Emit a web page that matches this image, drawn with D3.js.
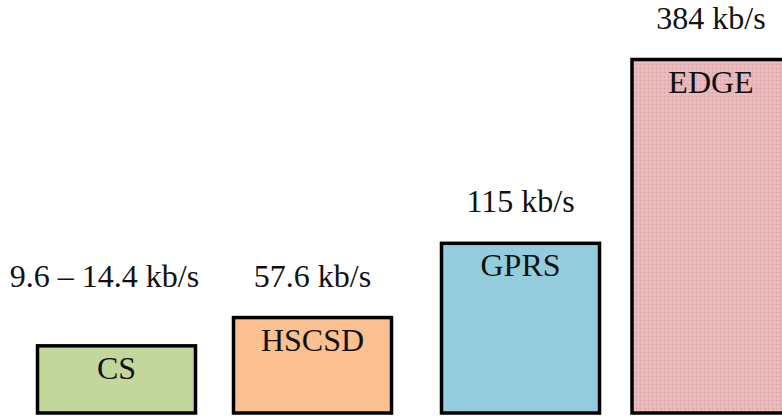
<!DOCTYPE html>
<html>
<head>
<meta charset="utf-8">
<script src="https://cdn.jsdelivr.net/npm/d3@7"></script>
<style>
  html, body { margin: 0; padding: 0; background: #fff; }
  svg { display: block; }
</style>
</head>
<body>
<svg id="chart" width="782" height="419"></svg>
<script>
// ---- data ----
const categories = ["CS", "HSCSD", "GPRS", "EDGE"];
const speedLabels = ["9.6 \u2013 14.4 kb/s", "57.6 kb/s", "115 kb/s", "384 kb/s"];
// relative bar size as drawn (EDGE = 100)
const barSizes = [19, 27, 48, 100];
const fills = ["#c3d69b", "#fac090", "#93cddd", "#e6b1b3"];

// ---- layout ----
const baseY = 413, topY = 59.5;
const barW = 158;
const FONT = '"Liberation Serif"';

const svg = d3.select("#chart");

const defs = svg.append("defs");
const pat = defs.append("pattern")
  .attr("id", "dots").attr("patternUnits", "userSpaceOnUse")
  .attr("width", 4).attr("height", 4);
pat.append("rect").attr("width", 4).attr("height", 4).attr("fill", "#e8b7b9");
pat.append("rect").attr("x", 0).attr("y", 0).attr("width", 1).attr("height", 1).attr("fill", "#d89a9e");
pat.append("rect").attr("x", 2).attr("y", 2).attr("width", 1).attr("height", 1).attr("fill", "#f0c8ca");

const x = d3.scaleOrdinal().domain(categories).range([116.5, 312.5, 520.5, 711]);
const y = d3.scaleLinear().domain([0, 100]).range([baseY, topY]);

const data = categories.map((c, i) => ({ c, label: speedLabels[i], v: barSizes[i], fill: fills[i] }));

const g = svg.append("g");

g.selectAll("rect.bar").data(data).enter().append("rect")
  .attr("class", "bar")
  .attr("x", d => x(d.c) - barW / 2)
  .attr("y", d => y(d.v))
  .attr("width", barW)
  .attr("height", d => baseY - y(d.v))
  .attr("fill", (d, i) => i === 3 ? "url(#dots)" : d.fill)
  .attr("stroke", "#000")
  .attr("stroke-width", 3.5);

g.selectAll("text.name").data(data).enter().append("text")
  .attr("class", "name")
  .attr("x", d => x(d.c))
  .attr("y", d => y(d.v) + 33)
  .attr("text-anchor", "middle")
  .attr("font-size", 32)
  .attr("fill", "#111")
  .style("font-family", FONT)
  .text(d => d.c);

// value labels: the narrow first bar's label sits at the second bar's level
g.selectAll("text.val").data(data).enter().append("text")
  .attr("class", "val")
  .attr("x", (d, i) => i === 0 ? x(d.c) - 12 : x(d.c))
  .attr("y", (d, i) => (i === 0 ? y(barSizes[1]) : y(d.v)) - 31)
  .attr("text-anchor", "middle")
  .attr("font-size", 32)
  .attr("fill", "#111")
  .style("font-family", FONT)
  .text(d => d.label);
</script>
</body>
</html>
